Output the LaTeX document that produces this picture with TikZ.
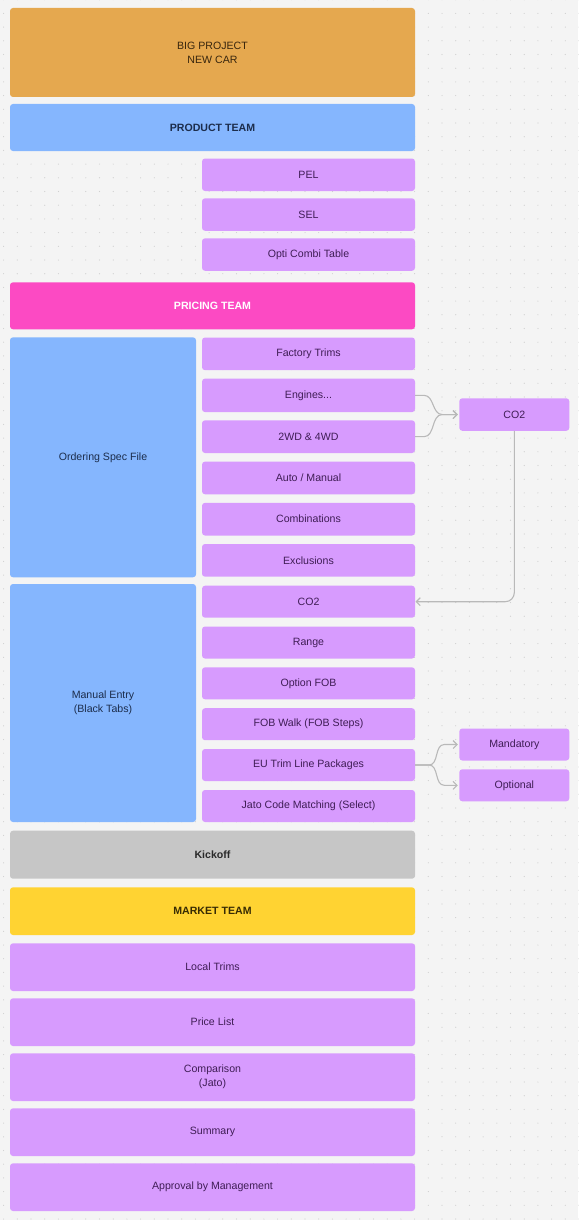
\documentclass[tikz,border=0pt]{standalone}
\usepackage{fontspec}
\setmainfont{Liberation Sans}
\usetikzlibrary{arrows.meta}
\definecolor{bgc}{HTML}{F4F4F4}
\definecolor{dotc}{HTML}{D0D0D0}
\definecolor{orangec}{HTML}{E5A84F}
\definecolor{bluec}{HTML}{85B6FE}
\definecolor{purplec}{HTML}{D79BFE}
\definecolor{pinkc}{HTML}{FC4AC3}
\definecolor{grayc}{HTML}{C6C6C6}
\definecolor{yellowc}{HTML}{FFD332}
\definecolor{ptext}{HTML}{3F1D55}
\definecolor{btext}{HTML}{1C2D4C}
\definecolor{otext}{HTML}{38260E}
\definecolor{ytext}{HTML}{382C04}
\definecolor{gtext}{HTML}{2A2A2A}
\definecolor{linec}{HTML}{B9B9B9}
\begin{document}
\begin{tikzpicture}[x=1pt,y=-1pt,
  box/.style={rounded corners=3pt, inner sep=0pt, outer sep=0pt, anchor=north west,
    align=center, font=\fontsize{10.6}{14}\selectfont},
  wh/.style 2 args={minimum width=#1pt, minimum height=#2pt},
  pbox/.style={box, fill=purplec, text=ptext},
  bbox/.style={box, fill=bluec, text=btext},
  hdr/.style={font=\fontsize{10.6}{14}\selectfont\bfseries},
  conn/.style={draw=linec, line width=1.1pt, -{Straight Barb[length=4pt,width=8pt]}}]
\useasboundingbox (0,0) rectangle (578,1220);
\fill[bgc] (0,0) rectangle (578,1220);
\foreach \i in {0,...,42}
  \foreach \j in {0,...,89}
    \fill[dotc] (3.6+13.7*\i, -0.3+13.7*\j) circle (0.6);
% top
\node[box, wh={405}{89}, fill=orangec, text=otext] (big) at (10,8) {BIG PROJECT\\NEW CAR};
\node[box, hdr, wh={405}{47}, fill=bluec, text=btext] (product) at (10,104) {PRODUCT TEAM};
\node[pbox, wh={213}{32.5}] (pel) at (202,158.5) {PEL};
\node[pbox, wh={213}{32.5}] (sel) at (202,198.3) {SEL};
\node[pbox, wh={213}{32.5}] (opti) at (202,238.3) {Opti Combi Table};
\node[box, hdr, wh={405}{47}, fill=pinkc, text=white] (pricing) at (10,282.3) {PRICING TEAM};
% ordering spec
\node[bbox, wh={186}{240}] (osf) at (10,337.3) {Ordering Spec File};
\node[pbox, wh={213}{32.7}] (ft) at (202,337.5) {Factory Trims};
\node[pbox, wh={213}{33.5}] (eng) at (202,378.6) {Engines...};
\node[pbox, wh={213}{32.7}] (wd) at (202,420.3) {2WD \& 4WD};
\node[pbox, wh={213}{32.7}] (am) at (202,461.6) {Auto / Manual};
\node[pbox, wh={213}{32.7}] (comb) at (202,502.8) {Combinations};
\node[pbox, wh={213}{32.7}] (excl) at (202,544) {Exclusions};
% manual entry
\node[bbox, wh={186}{238}] (me) at (10,584) {Manual Entry\\(Black Tabs)};
\node[pbox, wh={213}{32}] (co2b) at (202,585.7) {CO2};
\node[pbox, wh={213}{32}] (range) at (202,626.5) {Range};
\node[pbox, wh={213}{32}] (ofob) at (202,667.3) {Option FOB};
\node[pbox, wh={213}{32}] (fobw) at (202,708.2) {FOB Walk (FOB Steps)};
\node[pbox, wh={213}{32}] (eu) at (202,749) {EU Trim Line Packages};
\node[pbox, wh={213}{32}] (jato) at (202,790) {Jato Code Matching (Select)};
% right side
\node[pbox, wh={110}{32.5}] (co2r) at (459.3,398.3) {CO2};
\node[pbox, wh={110}{32}] (mand) at (459.3,728.5) {Mandatory};
\node[pbox, wh={110}{32}] (opt) at (459.3,769.3) {Optional};
% bottom
\node[box, hdr, wh={405}{48}, fill=grayc, text=gtext] (kick) at (10,830.7) {Kickoff};
\node[box, hdr, wh={405}{47.7}, fill=yellowc, text=ytext] (market) at (10,887.3) {MARKET TEAM};
\node[pbox, wh={405}{47.7}] (lt) at (10,943.3) {Local Trims};
\node[pbox, wh={405}{47.7}] (pl) at (10,998.3) {Price List};
\node[pbox, wh={405}{47.7}] (cmp) at (10,1053.3) {Comparison\\(Jato)};
\node[pbox, wh={405}{47.7}] (sum) at (10,1108.3) {Summary};
\node[pbox, wh={405}{47.7}] (appr) at (10,1163.3) {Approval by Management};
% connectors
\draw[conn, shorten >=1.5pt] (eng.east) -- ++(9,0) to[out=0,in=180] ([xshift=-17pt]co2r.west) -- (co2r.west);
\draw[conn, shorten >=1.5pt] (wd.east) -- ++(9,0) to[out=0,in=180] ([xshift=-17pt]co2r.west) -- (co2r.west);
\draw[conn, rounded corners=9pt, shorten >=0.5pt] (co2r.south) |- (co2b.east);
\draw[conn, shorten >=1.5pt] (eu.east) -- ++(14,0) to[out=0,in=180] ([xshift=-15pt]mand.west) -- (mand.west);
\draw[conn, shorten >=1.5pt] (eu.east) -- ++(14,0) to[out=0,in=180] ([xshift=-15pt]opt.west) -- (opt.west);
\end{tikzpicture}
\end{document}
